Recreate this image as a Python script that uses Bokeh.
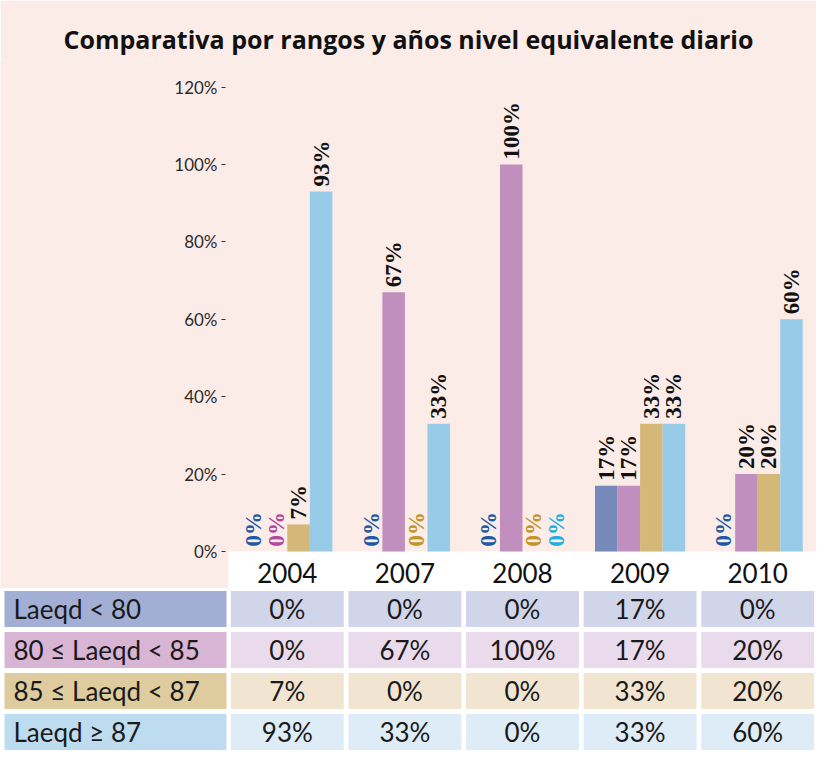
import math
from bokeh.plotting import figure
from bokeh.models import (FactorRange, Range1d, ColumnDataSource, FixedTicker,
                          NumeralTickFormatter, LinearAxis)
from bokeh.transform import dodge
from bokeh.layouts import column
from bokeh.embed import file_html
from bokeh.resources import INLINE
from bokeh.core.properties import value

# ---- data ----
years = ["2004", "2007", "2008", "2009", "2010"]
series_names = ["Laeqd < 80", "80 ≤ Laeqd < 85", "85 ≤ Laeqd < 87", "Laeqd ≥ 87"]
laeqd_lt80 = [0, 0, 0, 17, 0]
laeqd_80_85 = [0, 67, 100, 17, 20]
laeqd_85_87 = [7, 0, 0, 33, 20]
laeqd_ge87 = [93, 33, 0, 33, 60]
y_ticks = [0, 20, 40, 60, 80, 100, 120]

# ---- styles ----
bar_colors = ["#7589bb", "#c18fbd", "#d3b878", "#98cbe7"]
zero_label_colors = ["#1d5aa3", "#b0489d", "#c39428", "#1cb0de"]
head_colors = ["#a3aed4", "#d8b4d5", "#dfcc9e", "#bddcf0"]
cell_colors = ["#d1d5ea", "#e9dbeb", "#f1e5d1", "#deecf7"]
PINK = "#fbece8"
SANS = "Lato"

all_series = [laeqd_lt80, laeqd_80_85, laeqd_85_87, laeqd_ge87]
offsets = [-0.2875, -0.0958, 0.0958, 0.2875]
bar_w = 0.1916

W = 816
LEFT = 228                      # width of the label column (px)
unit = (W - LEFT) / len(years)  # px per year group
x_range = Range1d(-LEFT / unit, len(years))

CH = 588          # chart figure height
TH = 164          # table figure height
TOP = 60          # title band
BAND = 37         # white band under the bars (year labels)
PXU = 387         # px per 100%
y_range = Range1d(-BAND / PXU, (CH - TOP - BAND) / PXU)

p = figure(width=W, height=CH, x_range=x_range, y_range=y_range,
           output_backend="svg", toolbar_location=None,
           x_axis_location=None, y_axis_location=None,
           min_border_left=0, min_border_right=0, min_border_top=TOP, min_border_bottom=0,
           background_fill_color=PINK, border_fill_color=PINK, outline_line_color=None)
p.xgrid.grid_line_color = None
p.ygrid.grid_line_color = None

# white band behind the year labels
p.quad(left=[0], right=[len(years)], bottom=[y_range.start], top=[0],
       fill_color="white", line_color=None)

xpos = [i + 0.5 for i in range(len(years))]
for i, vals in enumerate(all_series):
    src = ColumnDataSource(dict(
        x=xpos,
        top=[v / 100 for v in vals],
        label=[f"{v}%" for v in vals],
        tc=[zero_label_colors[i] if v == 0 else "#111111" for v in vals],
    ))
    xd = dodge("x", offsets[i])
    p.vbar(x=xd, top="top", bottom=0, width=bar_w, source=src,
           fill_color=bar_colors[i], line_color=None)
    p.text(x=xd, y="top", text="label", source=src, angle=math.pi / 2,
           text_align="left", text_baseline="middle", y_offset=-5,
           text_color="tc", text_font=value("Liberation Serif"),
           text_font_style="bold", text_font_size="23px")

p.title.text = "Comparativa por rangos y años nivel equivalente diario"
p.title.align = "center"
p.title.text_font = "Open Sans"
p.title.text_font_style = "bold"
p.title.text_font_size = "25px"
p.title.text_color = "#111111"

yax = LinearAxis(fixed_location=0)
yax.ticker = FixedTicker(ticks=[t / 100 for t in y_ticks])
yax.formatter = NumeralTickFormatter(format="0%")
yax.axis_line_color = None
yax.major_tick_line_color = "#333333"
yax.major_tick_out = 7
yax.major_tick_in = -3
yax.minor_tick_line_color = None
yax.major_label_text_font = SANS
yax.major_label_text_font_size = "17px"
yax.major_label_text_color = "#2b2b2b"
yax.major_label_standoff = 4
p.add_layout(yax, "left")

xax = LinearAxis(fixed_location=0)
xax.ticker = FixedTicker(ticks=xpos)
xax.major_label_overrides = {x: y for x, y in zip(xpos, years)}
xax.axis_line_color = None
xax.major_tick_line_color = None
xax.minor_tick_line_color = None
xax.major_label_text_font = SANS
xax.major_label_text_font_size = "26px"
xax.major_label_text_color = "#111111"
xax.major_label_standoff = 5
p.add_layout(xax, "below")

# ---- table ----
t = figure(width=W, height=TH, x_range=x_range,
           y_range=FactorRange(*reversed(series_names)),
           output_backend="svg", toolbar_location=None, min_border=0,
           x_axis_location=None, y_axis_location=None,
           background_fill_color="white", border_fill_color="white", outline_line_color=None)
t.xgrid.grid_line_color = None
t.ygrid.grid_line_color = None

head_src = ColumnDataSource(dict(
    y=series_names, color=head_colors,
    x=[-(113 / unit)] * len(series_names),
    tx=[-(215 / unit)] * len(series_names),
))
t.rect(x="x", y="y", width=222 / unit, height=0.88, source=head_src,
       fill_color="color", line_color=None)
t.text(x="tx", y="y", text="y", source=head_src, text_align="left", text_baseline="middle",
       text_font=value(SANS), text_font_size="26px", text_color="#1a1a1a")

for i, (name, vals) in enumerate(zip(series_names, all_series)):
    src = ColumnDataSource(dict(
        x=xpos,
        y=[name] * len(years),
        label=[f"{v}%" for v in vals],
    ))
    t.rect(x="x", y="y", width=0.96, height=0.88, source=src,
           fill_color=cell_colors[i], line_color=None)
    t.text(x="x", y="y", text="label", source=src, text_align="center", text_baseline="middle",
           text_font=value(SANS), text_font_size="26px", text_color="#1a1a1a")

layout = column(p, t, spacing=0)
open("out.html", "w").write(file_html(layout, INLINE))
